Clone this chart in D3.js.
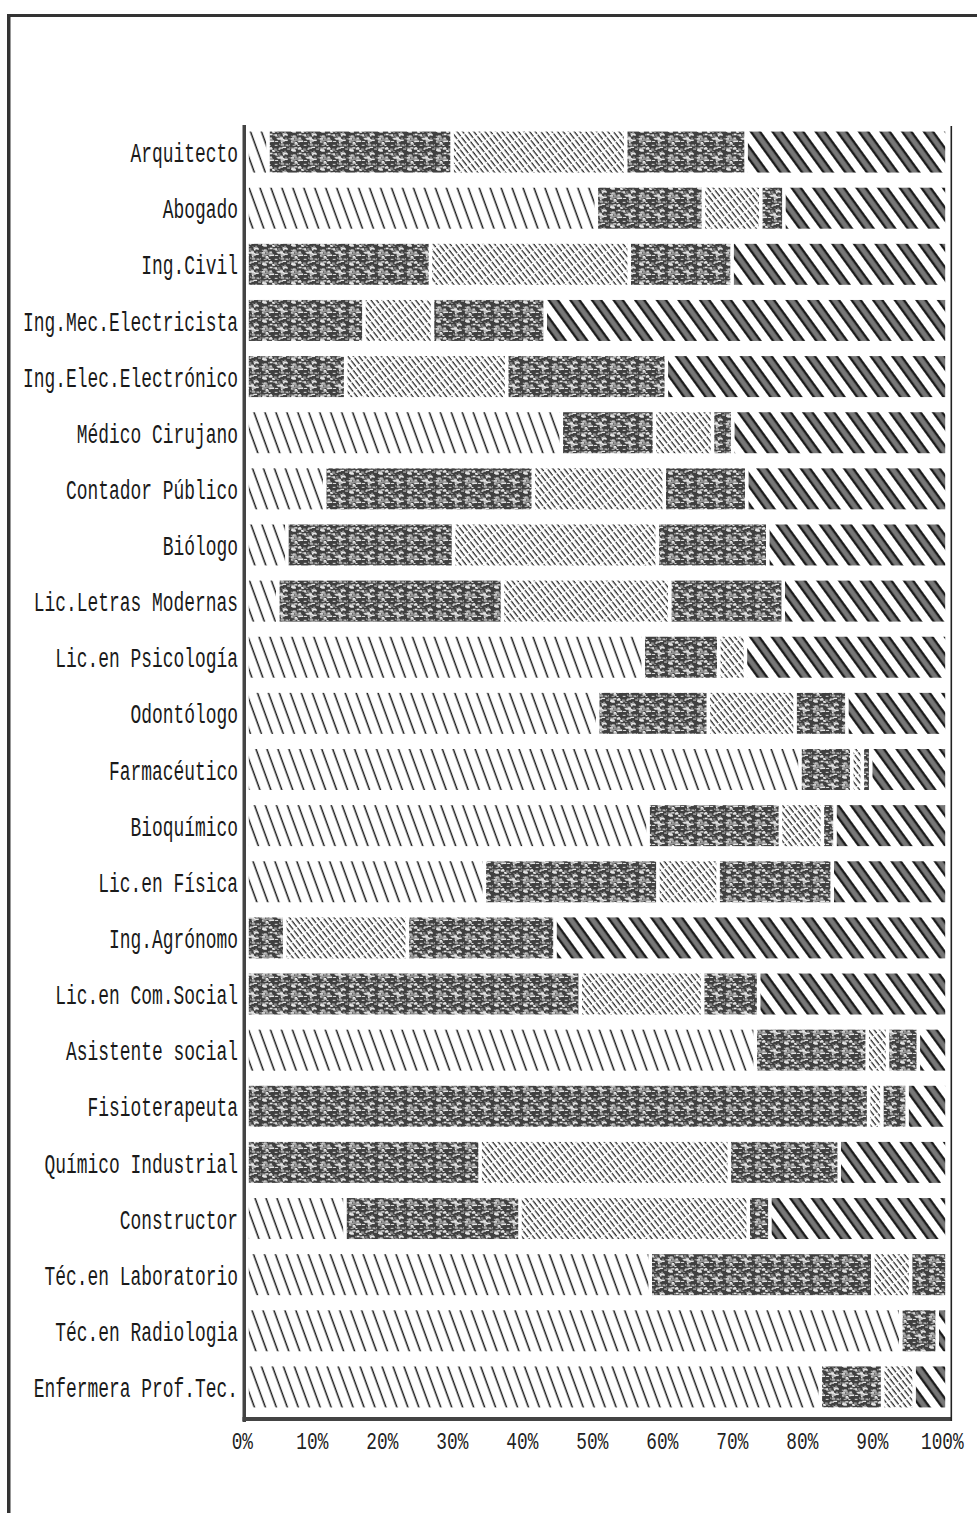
<!DOCTYPE html>
<html>
<head>
<meta charset="utf-8">
<script src="https://cdn.jsdelivr.net/npm/d3@7"></script>
<style>
  html, body { margin: 0; padding: 0; background: #fff; }
  svg { display: block; }
</style>
</head>
<body>
<script>
const categories = [
  "Arquitecto", "Abogado", "Ing.Civil", "Ing.Mec.Electricista", "Ing.Elec.Electrónico",
  "Médico Cirujano", "Contador Público", "Biólogo", "Lic.Letras Modernas", "Lic.en Psicología",
  "Odontólogo", "Farmacéutico", "Bioquímico", "Lic.en Física", "Ing.Agrónomo",
  "Lic.en Com.Social", "Asistente social", "Fisioterapeuta", "Químico Industrial", "Constructor",
  "Téc.en Laboratorio", "Téc.en Radiologia", "Enfermera Prof.Tec."
];
const seriesA = [3.0, 49.9, 0, 0, 0, 44.9, 11.1, 5.7, 4.4, 56.6, 50.1, 79.0, 57.3, 33.9, 0, 0, 72.6, 0, 0, 14.0, 57.6, 93.4, 81.9];
const seriesB = [26.3, 15.3, 26.2, 16.7, 14.1, 13.3, 29.8, 23.8, 32.1, 10.8, 15.8, 7.4, 18.9, 24.8, 5.4, 47.6, 16.0, 88.8, 33.3, 25.0, 31.8, 5.2, 8.9];
const seriesC = [24.8, 8.2, 28.4, 9.8, 23.0, 8.3, 18.7, 29.1, 23.9, 3.8, 12.4, 1.5, 6.0, 8.6, 17.5, 17.5, 2.9, 1.9, 35.6, 32.6, 5.4, 0, 4.5];
const seriesD = [17.2, 3.3, 14.7, 16.1, 22.8, 2.9, 11.8, 15.8, 16.2, 0, 7.4, 1.2, 1.8, 16.3, 21.1, 8.0, 4.4, 3.6, 15.7, 3.1, 5.2, 0, 0];
const seriesE = [28.7, 23.3, 30.7, 57.4, 40.1, 30.6, 28.6, 25.6, 23.4, 28.8, 14.3, 10.9, 16.0, 16.4, 56.0, 26.9, 4.1, 5.7, 15.4, 25.3, 0, 1.4, 4.7];
const tickValues = [0, 10, 20, 30, 40, 50, 60, 70, 80, 90, 100];
const tickLabels = ["0%", "10%", "20%", "30%", "40%", "50%", "60%", "70%", "80%", "90%", "100%"];

const W = 977, H = 1513;
const svg = d3.select("body").append("svg").attr("width", W).attr("height", H);
const defs = svg.append("defs");

// Pattern A: sparse thin diagonal hatch
const pA = defs.append("pattern").attr("id", "patA").attr("patternUnits", "userSpaceOnUse")
  .attr("width", 10.3).attr("height", 10).attr("patternTransform", "rotate(-20)");
pA.append("rect").attr("width", 10.3).attr("height", 10).attr("fill", "#fff");
pA.append("line").attr("x1", 5).attr("x2", 5).attr("y1", 0).attr("y2", 10)
  .attr("stroke", "#1a1a1a").attr("stroke-width", 1.5);

// Pattern C: dense thin diagonal hatch
const pC = defs.append("pattern").attr("id", "patC").attr("patternUnits", "userSpaceOnUse")
  .attr("width", 4.4).attr("height", 9).attr("patternTransform", "rotate(-38)");
pC.append("rect").attr("width", 4.4).attr("height", 9).attr("fill", "#fff");
pC.append("line").attr("x1", 2).attr("x2", 2).attr("y1", 0).attr("y2", 9)
  .attr("stroke", "#2a2a2a").attr("stroke-width", 1.3).attr("stroke-dasharray", "4,1.2");

// Pattern B/D: dark stipple (deterministic speckle texture)
function stipple(id) {
  const tw = 29, th = 19;
  const p = defs.append("pattern").attr("id", id).attr("patternUnits", "userSpaceOnUse")
    .attr("width", tw).attr("height", th);
  p.append("rect").attr("width", tw).attr("height", th).attr("fill", "#404040");
  let s = 17;
  const next = () => { s = (s * 73 + 41) % 1009; return s / 1009; };
  const g = p.append("g");
  for (let k = 0; k < 78; k++) {
    const px = next() * tw, py = next() * th;
    const w = 1 + next() * 3.2, h = 0.9 + next() * 0.8;
    const c = next() > 0.35 ? "#e8e8e8" : "#a0a0a0";
    g.append("rect").attr("x", px).attr("y", py).attr("width", w).attr("height", h).attr("fill", c);
  }
}
stipple("patB");
stipple("patD");

// Pattern E: bold diagonal stripes
const pE = defs.append("pattern").attr("id", "patE").attr("patternUnits", "userSpaceOnUse")
  .attr("width", 17.5).attr("height", 10).attr("patternTransform", "rotate(-36)");
pE.append("rect").attr("width", 17.5).attr("height", 10).attr("fill", "#fff");
pE.append("rect").attr("x", 4).attr("width", 9.5).attr("height", 10).attr("fill", "#111");
pE.append("rect").attr("x", 6.2).attr("width", 5.1).attr("height", 10).attr("fill", "#777");

const keys = ["A", "B", "C", "D", "E"];
const fills = { A: "url(#patA)", B: "url(#patB)", C: "url(#patC)", D: "url(#patD)", E: "url(#patE)" };
const rows = categories.map((c, i) => ({
  cat: c, A: seriesA[i], B: seriesB[i], C: seriesC[i], D: seriesD[i], E: seriesE[i]
}));
const stacked = d3.stack().keys(keys)(rows);

const x = d3.scaleLinear().domain([0, 100]).range([247, 947]);
const y = d3.scaleBand().domain(categories).range([124, 1415]).paddingInner(0.27).paddingOuter(0.135);

// outer page border
svg.append("rect").attr("x", 7).attr("y", 14).attr("width", W - 7).attr("height", 3).attr("fill", "#333");
svg.append("rect").attr("x", 7).attr("y", 14).attr("width", 3.5).attr("height", H - 14).attr("fill", "#333");

// bars
const inset = 1.8;
stacked.forEach(layer => {
  svg.append("g").selectAll("rect").data(layer.filter(d => d[1] - d[0] > 0)).join("rect")
    .attr("x", d => x(d[0]) + inset)
    .attr("y", d => y(d.data.cat))
    .attr("width", d => Math.max(1, x(d[1]) - x(d[0]) - 2 * inset))
    .attr("height", y.bandwidth())
    .attr("fill", fills[layer.key]);
});

// frame
svg.append("rect").attr("x", 242.5).attr("y", 125).attr("width", 3.5).attr("height", 1297).attr("fill", "#444");
svg.append("rect").attr("x", 242.5).attr("y", 1417).attr("width", 709).attr("height", 4).attr("fill", "#444");
svg.append("rect").attr("x", 950.5).attr("y", 126).attr("width", 1.6).attr("height", 1295).attr("fill", "#222");

// y axis labels
const yAxis = d3.axisLeft(y).tickSize(0).tickPadding(0);
const gy = svg.append("g").attr("transform", "translate(238,0)").call(yAxis);
gy.select(".domain").remove();
gy.selectAll("text")
  .attr("x", 0).attr("dy", "0.36em")
  .attr("transform", "scale(0.64,1)")
  .style("font-family", "'Liberation Mono', 'DejaVu Sans Mono', monospace")
  .style("font-size", "28px")
  .attr("fill", "#1a1a1a")
  .attr("text-anchor", "end");

// x axis labels
const xAxis = d3.axisBottom(x).tickValues(tickValues).tickFormat((d, i) => tickLabels[i]).tickSize(0).tickPadding(0);
const gx = svg.append("g").attr("transform", "translate(0,1432)").call(xAxis);
gx.select(".domain").remove();
gx.selectAll("text")
  .attr("y", 0).attr("dy", "0.71em").attr("x", -7)
  .attr("transform", "scale(0.74,1)")
  .style("font-family", "'Liberation Mono', 'DejaVu Sans Mono', monospace")
  .style("font-size", "24px")
  .attr("fill", "#222");
</script>
</body>
</html>
